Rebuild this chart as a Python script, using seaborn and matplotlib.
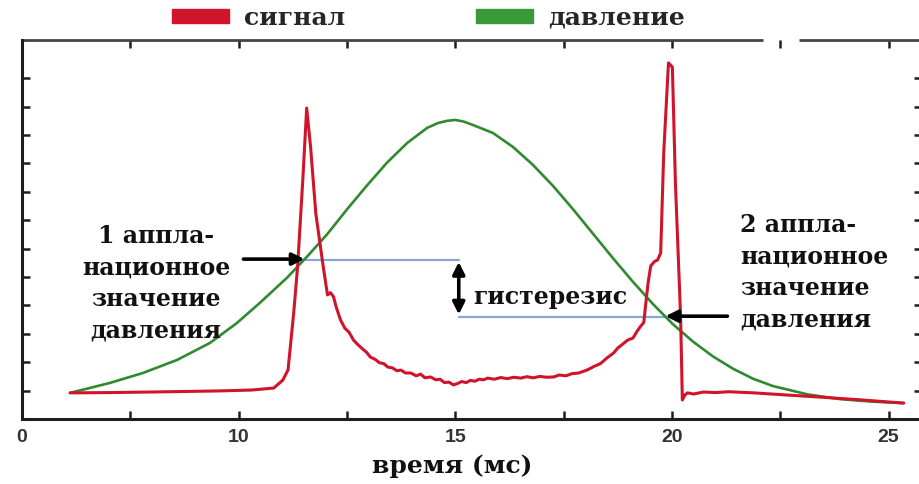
import numpy as np
import pandas as pd
import matplotlib
matplotlib.use("Agg")
import matplotlib.pyplot as plt
from matplotlib.patches import Patch
from matplotlib.lines import Line2D
import seaborn as sns

# ---- data ----
pressure_t = [6.11, 7.03, 7.79, 8.58, 9.34, 9.96, 10.49, 11.12, 11.58, 12.04, 12.50,
              12.96, 13.42, 13.89, 14.35, 14.60, 14.81, 15.00, 15.20, 15.41, 15.87, 16.33,
              16.79, 17.26, 17.72, 18.18, 18.64, 19.10, 19.56, 20.02, 20.49, 20.95, 21.41,
              21.87, 22.33, 23.12, 23.88, 24.64, 25.33]
pressure_v = [0.92, 1.27, 1.62, 2.08, 2.68, 3.38, 4.09, 4.98, 5.72, 6.50, 7.38,
              8.22, 9.02, 9.72, 10.25, 10.42, 10.50, 10.53, 10.47, 10.35, 10.07, 9.58,
              8.95, 8.20, 7.38, 6.52, 5.66, 4.83, 4.05, 3.34, 2.72, 2.20, 1.77,
              1.42, 1.16, 0.87, 0.70, 0.61, 0.56]

signal_t = [6.11, 7.0, 7.97, 8.8, 9.59, 10.3, 10.81, 11.02, 11.14, 11.27, 11.36, 11.48,
            11.57, 11.66, 11.78, 11.94, 12.05, 12.12, 12.19, 12.25, 12.35, 12.45, 12.55,
            12.65, 12.75, 12.85, 12.95, 13.04, 13.15, 13.25, 13.35, 13.44, 13.55, 13.65,
            13.75, 13.85, 13.97, 14.1, 14.2, 14.3, 14.43, 14.55, 14.65, 14.75, 14.85,
            14.96, 15.05, 15.15, 15.25, 15.35, 15.45, 15.55, 15.65, 15.75, 15.9, 16.05,
            16.2, 16.35, 16.51, 16.65, 16.8, 16.95, 17.1, 17.27, 17.4, 17.55, 17.7,
            17.85, 18.05, 18.2, 18.35, 18.5, 18.65, 18.75, 18.85, 18.98, 19.1, 19.2,
            19.28, 19.35, 19.39, 19.45, 19.51, 19.6, 19.67, 19.74, 19.81, 19.92, 20.01,
            20.08, 20.20, 20.24, 20.30, 20.36, 20.5, 20.73, 21.0, 21.3, 21.89, 22.6,
            23.43, 24.3, 25.35]
signal_v = [0.92, 0.93, 0.95, 0.97, 0.99, 1.02, 1.09, 1.37, 1.73, 3.73, 5.35, 8.41,
            10.95, 9.58, 7.25, 5.49, 4.37, 4.45, 4.30, 3.95, 3.49, 3.20, 3.05,
            2.78, 2.62, 2.48, 2.35, 2.18, 2.10, 1.98, 1.95, 1.83, 1.80, 1.70,
            1.72, 1.62, 1.62, 1.52, 1.58, 1.45, 1.48, 1.38, 1.40, 1.28, 1.30,
            1.20, 1.25, 1.32, 1.28, 1.36, 1.33, 1.40, 1.38, 1.44, 1.40, 1.46,
            1.42, 1.47, 1.44, 1.49, 1.45, 1.50, 1.47, 1.48, 1.55, 1.52, 1.60,
            1.62, 1.73, 1.85, 1.95, 2.15, 2.32, 2.50, 2.62, 2.78, 2.85, 3.10,
            3.27, 3.40, 3.98, 4.8, 5.39, 5.55, 5.60, 5.85, 9.37, 12.54, 12.39,
            8.31, 3.59, 0.67, 0.85, 0.92, 0.88, 0.95, 0.93, 0.96, 0.92, 0.85,
            0.77, 0.68, 0.56]

series_labels = ["сигнал", "давление"]
x_ticks_major = [5, 10, 15, 20, 25]
x_tick_labels = ["0", "10", "15", "20", "25"]
x_ticks_minor = [7.5, 12.5, 17.5, 22.5]
y_ticks = list(range(1, 13))
x_label = "время (мс)"

# annotation values
upper_level = 5.60      # 1st applanation pressure
lower_level = 3.59      # 2nd applanation pressure
upper_line_t = (11.55, 15.08)
lower_line_t = (15.08, 19.85)
hyst_t = 15.08
hyst_range = (5.53, 3.68)
arrow1 = (10.11, 11.52, 5.63)
arrow2 = (21.28, 19.85, 3.62)
text1 = "1 аппла-\nнационное\nзначение\nдавления"
text2 = "2 аппла-\nнационное\nзначение\nдавления"
text_hyst = "гистерезис"

RED = "#d0142c"
GREEN = "#2f8a30"
BLUE = "#8aa6d6"
DARK = "#1e1e1e"

sns.set_theme(style="white")
plt.rcParams["font.family"] = ["DejaVu Serif", "DejaVu Sans"]

W, H = 920, 484
fig = plt.figure(figsize=(W / 100, H / 100), dpi=100)
ax = fig.add_axes([22 / W, (H - 419) / H, 900 / W, 379 / H])

df_p = pd.DataFrame({"t": pressure_t, "v": pressure_v})
df_s = pd.DataFrame({"t": signal_t, "v": signal_v})
sns.lineplot(data=df_p, x="t", y="v", ax=ax, color=GREEN, lw=1.9, estimator=None, sort=False)
sns.lineplot(data=df_s, x="t", y="v", ax=ax, color=RED, lw=2.2, estimator=None, sort=False)

ax.set_xlim(5, 5 + 900 / 43.33)
ax.set_ylim(0, 379 / 28.4)

# hysteresis lines
ax.plot(list(upper_line_t), [upper_level, upper_level], color=BLUE, lw=1.6, zorder=1)
ax.plot(list(lower_line_t), [lower_level, lower_level], color=BLUE, lw=1.6, zorder=1)
ax.annotate("", xy=(hyst_t, hyst_range[1]), xytext=(hyst_t, hyst_range[0]),
            arrowprops=dict(arrowstyle="<|-|>", color="black", lw=2.6, mutation_scale=18,
                            shrinkA=0, shrinkB=0))
ax.annotate("", xy=(arrow1[1], arrow1[2]), xytext=(arrow1[0], arrow1[2]),
            arrowprops=dict(arrowstyle="-|>", color="black", lw=2.6, mutation_scale=18,
                            shrinkA=0, shrinkB=0))
ax.annotate("", xy=(arrow2[1], arrow2[2]), xytext=(arrow2[0], arrow2[2]),
            arrowprops=dict(arrowstyle="-|>", color="black", lw=2.6, mutation_scale=18,
                            shrinkA=0, shrinkB=0))

tfont = dict(family="DejaVu Serif", weight="bold", size=17, color="#111111")
ax.text(8.09, 4.79, text1, ha="center", va="center", multialignment="center",
        linespacing=1.4, **tfont)
ax.text(21.58, 5.16, text2, ha="left", va="center", multialignment="left",
        linespacing=1.4, **tfont)
ax.text(15.42, 4.30, text_hyst, ha="left", va="center", **tfont)

# axes styling
for s in ["left", "bottom"]:
    ax.spines[s].set_color(DARK)
    ax.spines[s].set_linewidth(2.2)
ax.spines["right"].set_visible(False)
ax.spines["top"].set_visible(False)
# top spine with small gap
x_gap0, x_gap1 = (763 - 22) / 900, (799 - 22) / 900
for a, b in [(0, x_gap0), (x_gap1, 1.0)]:
    ax.add_line(Line2D([a, b], [1, 1], transform=ax.transAxes, color="#444444",
                       lw=2.0, clip_on=False, solid_capstyle="butt"))

ax.set_xticks(x_ticks_major)
ax.set_xticklabels(x_tick_labels)
ax.set_xticks(x_ticks_minor, minor=True)
ax.set_yticks(y_ticks)
ax.set_yticklabels([])
ax.tick_params(axis="x", which="both", direction="in", length=6, width=1.8, color=DARK,
               top=True, bottom=True, pad=7)
ax.tick_params(axis="y", which="both", direction="in", length=6, width=1.8, color=DARK,
               left=True, right=True)
for lab in ax.get_xticklabels():
    lab.set_fontfamily("Liberation Sans")
    lab.set_fontweight("bold")
    lab.set_fontsize(14)
    lab.set_color("#333333")

ax.set_xlabel(x_label, family="DejaVu Serif", weight="bold", size=18, color="#111111")
ax.xaxis.set_label_coords((452 - 22) / 900, -(466 - 419) / 379)
ax.xaxis.label.set_va("center")
ax.set_ylabel("")

handles = [Patch(facecolor=RED, edgecolor=RED), Patch(facecolor="#3a9a3a", edgecolor="#3a9a3a")]
fig.legend(handles, series_labels, loc="center left",
           bbox_to_anchor=(172 / W, 1 - 18 / H), ncol=2, frameon=False,
           prop=dict(family="DejaVu Serif", weight="bold", size=18),
           handlelength=2.3, handleheight=0.5, handletextpad=0.6,
           columnspacing=5.2, borderpad=0, borderaxespad=0)

fig.savefig("out.png", dpi=100)
